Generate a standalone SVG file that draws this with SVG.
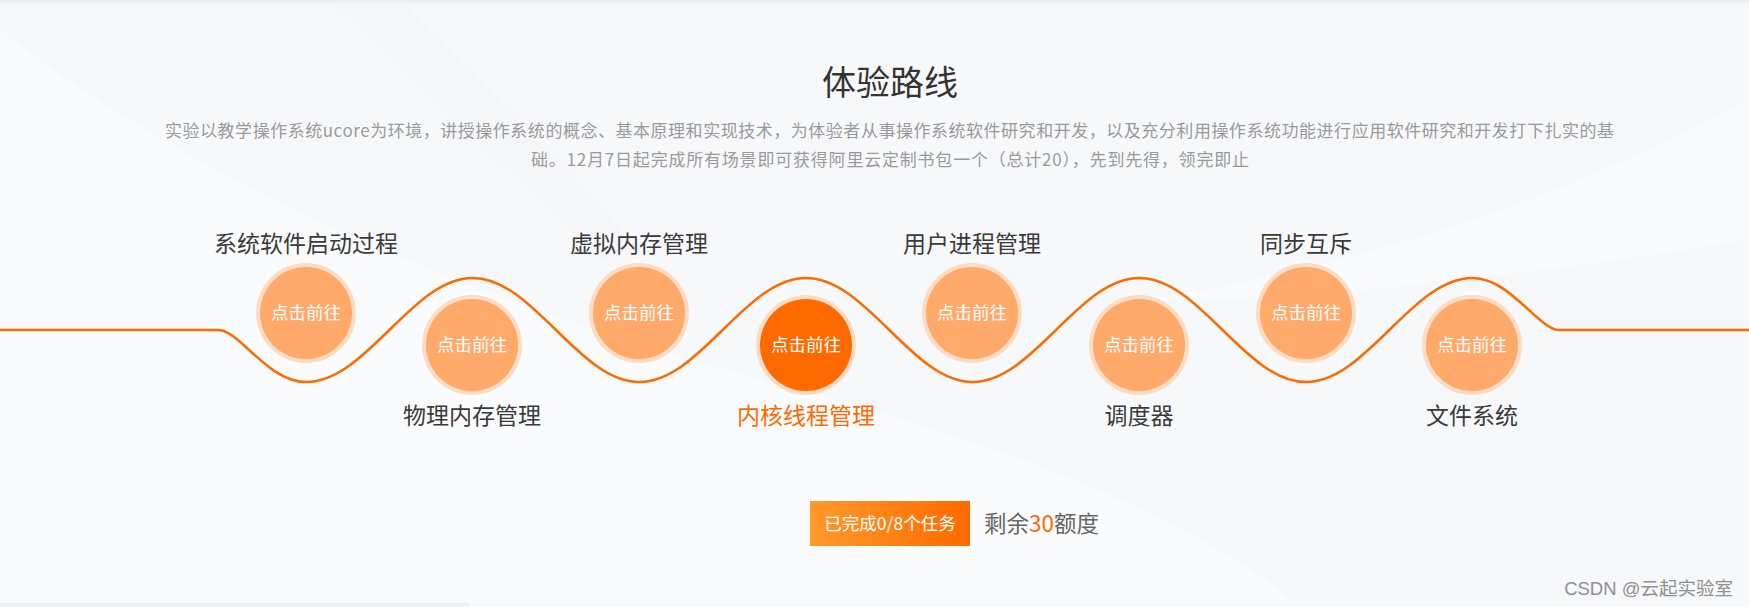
<svg xmlns="http://www.w3.org/2000/svg" width="1749" height="607" viewBox="0 0 1749 607">
<defs>
<linearGradient id="btn" x1="0" y1="0" x2="1" y2="0">
<stop offset="0" stop-color="#ff9a2a"/>
<stop offset="1" stop-color="#ff6a00"/>
</linearGradient>
<linearGradient id="topshade" x1="0" y1="0" x2="0" y2="1">
<stop offset="0" stop-color="#e9ebef"/>
<stop offset="1" stop-color="#f7f8fa" stop-opacity="0"/>
</linearGradient>
<style>
.cjk{font-family:"Noto Sans CJK SC","Noto Sans",sans-serif;}
.label{font-size:23px;fill:#3a3a3a;text-anchor:middle;}
.active{fill:#ff6a00;}
.ring{fill:#fddcc4;}
.dot{fill:#ffa96b;}
.dotOn{fill:#ff6a00;}
.go{font-size:17.5px;fill:#ffffff;text-anchor:middle;}
.sub{font-size:17px;fill:#9a9a9a;}
</style>
</defs>
<rect x="0" y="0" width="1749" height="607" fill="#f7f8fa"/>
<path d="M0 30 C220 200 480 300 760 380 C1000 440 1200 520 1300 607 H0 Z" fill="#fafbfc"/>
<path d="M330 0 C420 80 520 180 600 260 L640 250 C560 160 470 70 400 0 Z" fill="#f5f6f8"/>
<path d="M1749 100 C1560 200 1380 260 1150 300 C1300 300 1500 280 1749 240 Z" fill="#fafbfc"/>
<rect x="0" y="0" width="1749" height="8" fill="url(#topshade)"/>
<rect x="0" y="603" width="470" height="4" fill="#eef0f3"/>

<g id="header" class="cjk">
<text x="890" y="95" font-size="34" fill="#333333" text-anchor="middle">体验路线</text>
<text class="sub" x="165" y="137" textLength="1449" lengthAdjust="spacing">实验以教学操作系统ucore为环境，讲授操作系统的概念、基本原理和实现技术，为体验者从事操作系统软件研究和开发，以及充分利用操作系统功能进行应用软件研究和开发打下扎实的基</text>
<text class="sub" x="531" y="166" textLength="718" lengthAdjust="spacing">础。12月7日起完成所有场景即可获得阿里云定制书包一个（总计20），先到先得，领完即止</text>
</g>

<g id="connectors">
<path d="M0,330 H219 C240,331 268,382 306,382 c30.16,0 56.15,-25.36 83.33,-52 s53.17,-52 83.33,-52 s56.15,25.36 83.33,52 s53.17,52 83.33,52 s56.15,-25.36 83.33,-52 s53.17,-52 83.33,-52 s56.15,25.36 83.33,52 s53.17,52 83.33,52 s56.15,-25.36 83.33,-52 s53.17,-52 83.33,-52 s56.15,25.36 83.33,52 s53.17,52 83.33,52 s56.15,-25.36 83.33,-52 s53.17,-52 83.33,-52 C1510,278 1538,329 1559,330 H1749" fill="none" stroke="#ff6a00" stroke-width="2.5"/>
</g>

<g id="node1" class="cjk">
<text class="label" x="306" y="252">系统软件启动过程</text>
<circle class="ring" cx="306" cy="313" r="50"/>
<circle class="dot" cx="306" cy="313" r="46"/>
<text class="go" x="306" y="319">点击前往</text>
</g>
<g id="node2" class="cjk">
<circle class="ring" cx="472" cy="345" r="50"/>
<circle class="dot" cx="472" cy="345" r="46"/>
<text class="go" x="472" y="351">点击前往</text>
<text class="label" x="472" y="424">物理内存管理</text>
</g>
<g id="node3" class="cjk">
<text class="label" x="639" y="252">虚拟内存管理</text>
<circle class="ring" cx="639" cy="313" r="50"/>
<circle class="dot" cx="639" cy="313" r="46"/>
<text class="go" x="639" y="319">点击前往</text>
</g>
<g id="node4" class="cjk">
<circle class="ring" cx="806" cy="345" r="50"/>
<circle class="dotOn" cx="806" cy="345" r="46"/>
<text class="go" x="806" y="351">点击前往</text>
<text class="label active" x="806" y="424">内核线程管理</text>
</g>
<g id="node5" class="cjk">
<text class="label" x="972" y="252">用户进程管理</text>
<circle class="ring" cx="972" cy="313" r="50"/>
<circle class="dot" cx="972" cy="313" r="46"/>
<text class="go" x="972" y="319">点击前往</text>
</g>
<g id="node6" class="cjk">
<circle class="ring" cx="1139" cy="345" r="50"/>
<circle class="dot" cx="1139" cy="345" r="46"/>
<text class="go" x="1139" y="351">点击前往</text>
<text class="label" x="1139" y="424">调度器</text>
</g>
<g id="node7" class="cjk">
<text class="label" x="1306" y="252">同步互斥</text>
<circle class="ring" cx="1306" cy="313" r="50"/>
<circle class="dot" cx="1306" cy="313" r="46"/>
<text class="go" x="1306" y="319">点击前往</text>
</g>
<g id="node8" class="cjk">
<circle class="ring" cx="1472" cy="345" r="50"/>
<circle class="dot" cx="1472" cy="345" r="46"/>
<text class="go" x="1472" y="351">点击前往</text>
<text class="label" x="1472" y="424">文件系统</text>
</g>

<g id="progress" class="cjk">
<rect x="810" y="501" width="160" height="45" fill="url(#btn)"/>
<text x="890" y="530" font-size="17.5" fill="#ffffff" text-anchor="middle">已完成0/8个任务</text>
<text x="984" y="532" font-size="22.5" fill="#666666">剩余<tspan fill="#ff6a00">30</tspan>额度</text>
</g>

<g id="watermark">
<text x="1733" y="595" font-family="'Liberation Sans','Noto Sans CJK SC',sans-serif" font-size="18.5" fill="#8f8f8f" text-anchor="end">CSDN @云起实验室</text>
</g>
</svg>
